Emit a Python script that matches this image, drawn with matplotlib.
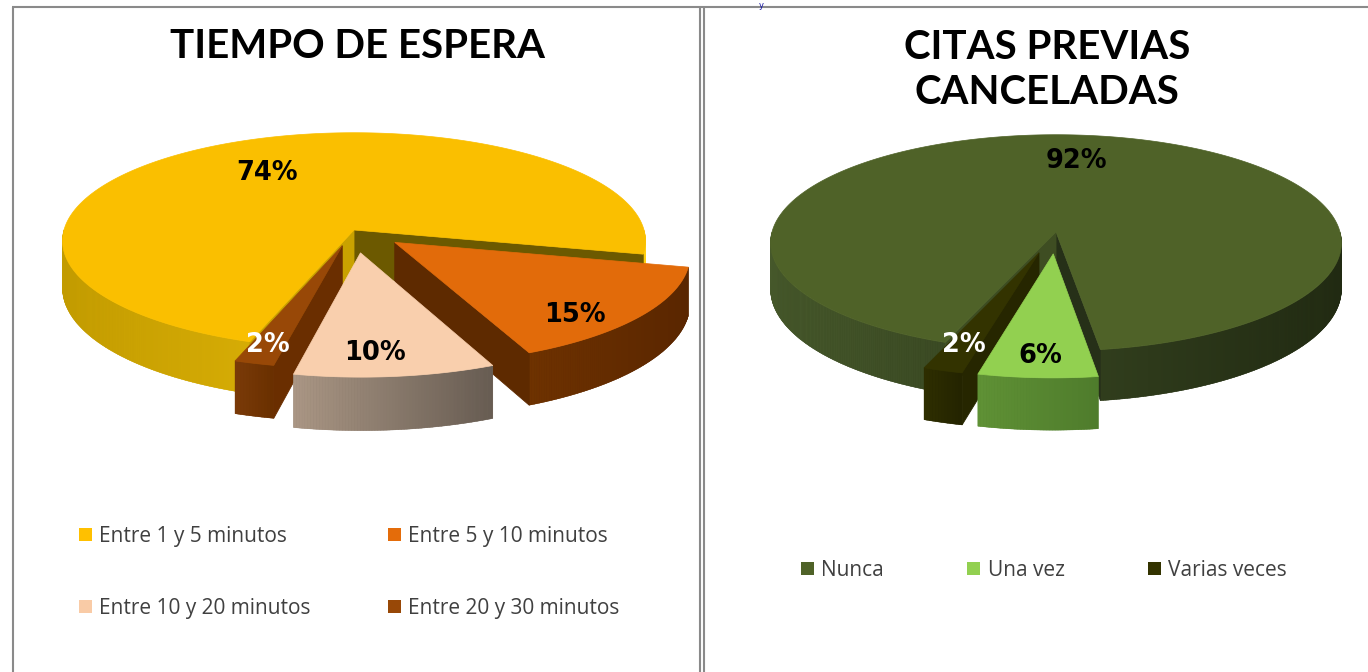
import numpy as np
import matplotlib.pyplot as plt
from matplotlib.patches import Polygon, Patch
from matplotlib.collections import PolyCollection
from matplotlib.colors import to_rgb

# datos
tiempo_labels = ['Entre 1 y 5 minutos', 'Entre 5 y 10 minutos',
                 'Entre 10 y 20 minutos', 'Entre 20 y 30 minutos']
tiempo_pct = [74, 15, 10, 2]

citas_labels = ['Nunca', 'Una vez', 'Varias veces']
citas_pct = [92, 6, 2]

# estilo de cada tarta (posicion en pixeles, colores, explosion)
tiempo_style = dict(
    cx=354, cy=230, rx=290, ry=107, depth=47, start=251.0,
    explode=[0.0, 0.18, 0.21, 0.15],
    top=['#FABF00', '#E26B0A', '#F9CFAD', '#984807'],
    side=[('#C29B00', '#FFCF10'), ('#6E3200', '#5A2600'),
          ('#AA9684', '#675C52'), ('#7A3A08', '#6A3000')],
    cut=[('#6C5900', '#C9A200'), ('#5E2A00', '#5E2A00'),
         ('#8C7A6A', '#8C7A6A'), ('#6A2E00', '#6A2E00')],
    label_r=[0.65, 0.84, 0.82, 0.86],
    label_da=[0, -8, -3, 0],
    label_col=['black', 'black', 'black', 'white'],
)
citas_style = dict(
    cx=1056, cy=232, rx=284, ry=107, depth=46, start=249.3,
    explode=[0.0, 0.2, 0.2],
    top=['#4F6228', '#92D050', '#333300'],
    side=[('#46582B', '#212A12'), ('#5F9135', '#4F7C2C'), ('#2E2E00', '#242400')],
    cut=[('#263018', '#3E4D22'), ('#4F7C2C', '#4F7C2C'), ('#262600', '#262600')],
    label_r=[0.71, 0.84, 0.8],
    label_da=[0, 0, 0],
    label_col=['black', 'black', 'white'],
)
tiempo_legend = ['#FFC000', '#E46C0A', '#F9CBA6', '#984807']
citas_legend = ['#4F6228', '#92D050', '#333300']

PERSP = 10.0


def proj(p, u, v, z):
    # perspectiva sencilla: lo de delante se ve mas grande
    f = PERSP / (PERSP + v)
    return p['cx'] + p['rx'] * u * f, p['cy'] - p['ry'] * v * f + p['depth'] * z * f


def mix(c1, c2, t):
    a, b = np.array(to_rgb(c1)), np.array(to_rgb(c2))
    return tuple(np.clip(a + (b - a) * t, 0, 1))


def pie3d(ax, values, p):
    vals = np.asarray(values, float)
    spans = vals / vals.sum() * 360
    ends = p['start'] - np.concatenate([[0], np.cumsum(spans)[:-1]])
    starts = ends - spans
    mids = (starts + ends) / 2
    expl = np.array(p['explode'])
    order = np.argsort(-(np.sin(np.radians(mids)) - expl))

    for i in order:
        m = np.radians(mids[i])
        ou, ov = expl[i] * np.cos(m), expl[i] * np.sin(m)
        t = np.radians(np.linspace(starts[i], ends[i], max(int(spans[i] * 2), 6)))
        u, v = ou + np.cos(t), ov + np.sin(t)

        # lateral curvo (solo la mitad delantera), por tramos continuos
        front = np.sin((t[:-1] + t[1:]) / 2) < 0
        runs, cur = [], []
        for j in range(len(t) - 1):
            if front[j]:
                cur.append(j)
            elif cur:
                runs.append(cur)
                cur = []
        if cur:
            runs.append(cur)
        quads = []
        for run in runs:
            idx = list(run) + [run[-1] + 1]
            outline = [proj(p, u[k], v[k], 0) for k in idx] + \
                      [proj(p, u[k], v[k], 1) for k in idx[::-1]]
            ax.add_patch(Polygon(outline, closed=True,
                                 facecolor=mix(p['side'][i][0], p['side'][i][1], 0.5),
                                 edgecolor='none'))
            for j in run:
                quads.append([proj(p, u[j], v[j], 0), proj(p, u[j + 1], v[j + 1], 0),
                              proj(p, u[j + 1], v[j + 1], 1), proj(p, u[j], v[j], 1)])
        if quads:
            xs = np.array([np.mean([q[0] for q in quad]) for quad in quads])
            span_x = max(xs.max() - xs.min(), 1)
            cols = [mix(p['side'][i][0], p['side'][i][1], (x - xs.min()) / span_x) for x in xs]
            ax.add_collection(PolyCollection(quads, facecolors=cols, edgecolors=cols,
                                             linewidths=0.3))

        # caras de corte
        a1, a2 = np.radians(starts[i]), np.radians(ends[i])
        for ang, col, vis in [(a1, p['cut'][i][0], np.cos(a1) > 0),
                              (a2, p['cut'][i][1], np.cos(a2) < 0)]:
            if vis and spans[i] < 360:
                ru, rv = ou + np.cos(ang), ov + np.sin(ang)
                face = [proj(p, ou, ov, 0), proj(p, ru, rv, 0),
                        proj(p, ru, rv, 1), proj(p, ou, ov, 1)]
                ax.add_patch(Polygon(face, closed=True, facecolor=col, edgecolor=col, lw=0.6))

        # cara superior
        top = [proj(p, ou, ov, 0)] + [proj(p, a, b, 0) for a, b in zip(u, v)]
        ax.add_patch(Polygon(top, closed=True, facecolor=p['top'][i],
                             edgecolor=p['top'][i], lw=0.5))

    # etiquetas de porcentaje
    for i in range(len(vals)):
        m = np.radians(mids[i])
        la = m + np.radians(p['label_da'][i])
        r = p['label_r'][i]
        x, y = proj(p, expl[i] * np.cos(m) + r * np.cos(la),
                    expl[i] * np.sin(m) + r * np.sin(la), 0)
        ax.text(x, y, f'{values[i]}%', ha='center', va='center', fontsize=18.5,
                fontweight='bold', color=p['label_col'][i], family='DejaVu Sans', zorder=10)


fig = plt.figure(figsize=(13.68, 6.72), dpi=100)
ax = fig.add_axes([0, 0, 1, 1])
ax.set_xlim(0, 1368)
ax.set_ylim(672, 0)
ax.axis('off')

# bordes de la tabla
line_kw = dict(color='#8a8a8a', lw=1.5, solid_capstyle='butt')
ax.plot([12, 1368], [7, 7], **line_kw)
ax.plot([13, 13], [7, 672], **line_kw)
ax.plot([699.5, 699.5], [7, 672], **line_kw)
ax.plot([703.5, 703.5], [7, 672], **line_kw)
ax.text(761, 0.5, 'y', color='#1a1aa6', fontsize=6, ha='center', va='top')

pie3d(ax, tiempo_pct, tiempo_style)
pie3d(ax, citas_pct, citas_style)

title_kw = dict(ha='center', va='center', fontsize=29, fontweight='bold',
                family='Lato', color='black')
ax.text(357, 47, 'TIEMPO DE ESPERA', **title_kw)
ax.text(1047, 70, 'CITAS PREVIAS\nCANCELADAS', linespacing=1.29, **title_kw)

leg_kw = dict(loc='upper left', bbox_transform=ax.transData, frameon=False,
              handlelength=0.62, handleheight=0.62, handletextpad=0.35,
              borderpad=0, borderaxespad=0, labelcolor='#404040',
              prop={'family': 'Open Sans', 'size': 15})
idx = [0, 2, 1, 3]
h1 = [Patch(facecolor=tiempo_legend[k], edgecolor='none') for k in idx]
leg1 = ax.legend(h1, [tiempo_labels[k] for k in idx], ncol=2, bbox_to_anchor=(79, 526),
                 columnspacing=3.7, labelspacing=2.45, **leg_kw)
ax.add_artist(leg1)
h2 = [Patch(facecolor=c, edgecolor='none') for c in citas_legend]
ax.legend(h2, citas_labels, ncol=3, bbox_to_anchor=(801, 560),
          columnspacing=4.0, **leg_kw)

fig.savefig('out.png', dpi=100)
